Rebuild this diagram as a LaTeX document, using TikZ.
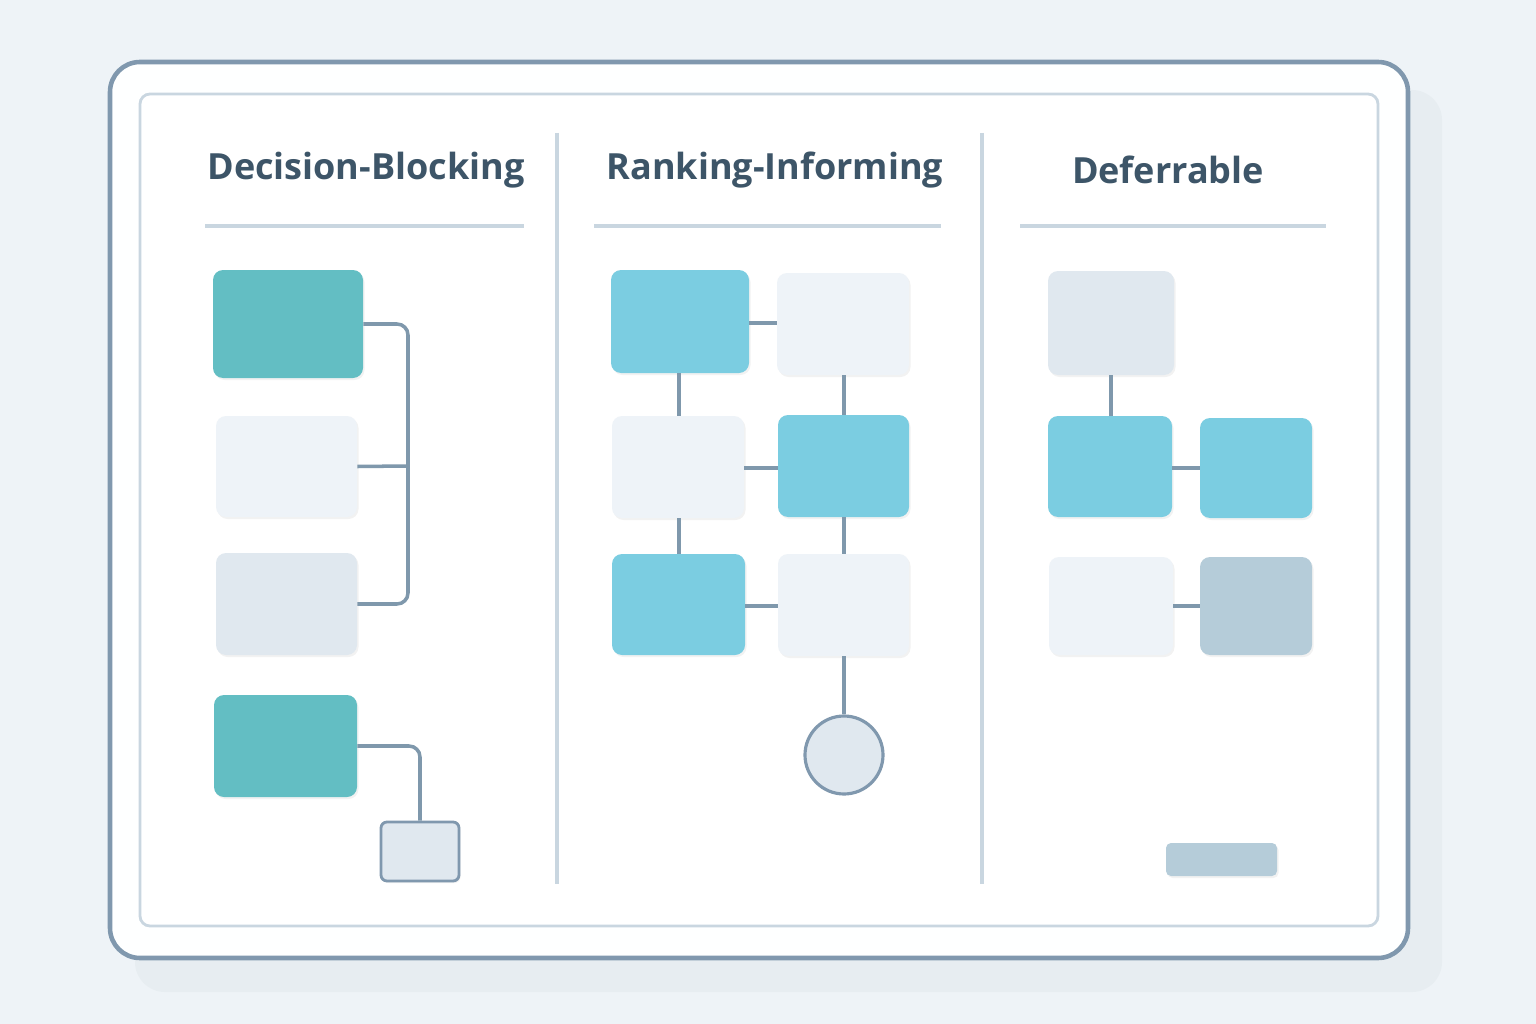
\documentclass[tikz,border=0pt]{standalone}
\usepackage{fontspec}
\setsansfont{Open Sans}
\usetikzlibrary{shadows}
\definecolor{pagebg}{HTML}{EEF3F7}
\definecolor{frameline}{HTML}{8098AE}
\definecolor{innerline}{HTML}{C9D6E0}
\definecolor{titlecol}{HTML}{3D5568}
\definecolor{tealbox}{HTML}{63BEC3}
\definecolor{bluebox}{HTML}{7BCDE1}
\definecolor{palebox}{HTML}{EEF3F8}
\definecolor{greybox}{HTML}{E0E8EF}
\definecolor{slatebox}{HTML}{B5CCD9}
\definecolor{linkcol}{HTML}{7F98AC}
\newcommand\pxu{0.02cm}
\begin{document}
\begin{tikzpicture}[x=0.02cm,y=-0.02cm,
	box/.style={rectangle, rounded corners=0.2cm, inner sep=0pt, draw=none,
		drop shadow={shadow xshift=0.03cm, shadow yshift=-0.04cm, opacity=0.1}},
	link/.style={draw=linkcol, line width=2pt, rounded corners=0.22cm},
	title/.style={font=\sffamily\bfseries\fontsize{20.5}{24}\selectfont, text=titlecol},
	rule/.style={draw=innerline, line width=1.8pt}]
	% Background and frame
	\fill[pagebg] (0,0) rectangle (1536,1024);
	\fill[innerline!45, rounded corners=0.6cm] (135,90) rectangle (1442,992);
	\draw[frameline, line width=2.6pt, fill=white!97!pagebg, rounded corners=0.6cm] (110,62) rectangle (1408,958);
	\draw[innerline, line width=1.6pt, fill=white!98!pagebg, rounded corners=0.2cm] (140,94) rectangle (1378,926);
	% Column dividers
	\draw[rule] (557,133) -- (557,884);
	\draw[rule] (982,133) -- (982,884);
	% Titles
	\node[title] (tblock) at (366,170) {Decision-Blocking};
	\node[title] (trank) at (775,170) {Ranking-Informing};
	\node[title] (tdefer) at (1168,170) {Deferrable};
	\draw[rule] (205,226) -- (524,226);
	\draw[rule] (594,226) -- (941,226);
	\draw[rule] (1020,226) -- (1326,226);
	% Decision-Blocking
	\node[box, fill=tealbox, minimum width=150*\pxu, minimum height=108*\pxu] (a1) at (288,324) {};
	\node[box, fill=palebox, minimum width=141*\pxu, minimum height=101*\pxu] (a2) at (286.5,466.5) {};
	\node[box, fill=greybox, minimum width=141*\pxu, minimum height=102*\pxu] (a3) at (286.5,604) {};
	\node[box, fill=tealbox, minimum width=143*\pxu, minimum height=102*\pxu] (a4) at (285.5,746) {};
	\node[box, fill=greybox, draw=frameline, line width=1.6pt, rounded corners=0.12cm,
		minimum width=78*\pxu, minimum height=59*\pxu] (a5) at (420,851.5) {};
	\coordinate (j1) at (408,466);
	\draw[link] (a1.east) -| (j1) |- (a3.east);
	\draw[link] (a2.east) -- (j1);
	\draw[link] (a4.east) -| (a5.north);
	% Ranking-Informing
	\node[box, fill=bluebox, minimum width=138*\pxu, minimum height=103*\pxu] (b1) at (680,321.5) {};
	\node[box, fill=palebox, minimum width=132*\pxu, minimum height=102*\pxu] (b2) at (843,324) {};
	\node[box, fill=palebox, minimum width=132*\pxu, minimum height=102*\pxu] (b3) at (678,467) {};
	\node[box, fill=bluebox, minimum width=131*\pxu, minimum height=102*\pxu] (b4) at (843.5,466) {};
	\node[box, fill=bluebox, minimum width=133*\pxu, minimum height=101*\pxu] (b5) at (678.5,604.5) {};
	\node[box, fill=palebox, minimum width=131*\pxu, minimum height=102*\pxu] (b6) at (843.5,605) {};
	\node[circle, fill=greybox, draw=frameline, line width=1.8pt, minimum size=78*\pxu, inner sep=0pt] (goal) at (844,755) {};
	\draw[link] (b1.east |- 0,323) -- (b2.west |- 0,323);
	\draw[link] (679,373) -- (679,416);
	\draw[link] (844,375) -- (844,415);
	\draw[link] (b3.east |- 0,468) -- (b4.west |- 0,468);
	\draw[link] (679,518) -- (679,554);
	\draw[link] (844,517) -- (844,554);
	\draw[link] (b5.east |- 0,606) -- (b6.west |- 0,606);
	\draw[link] (b6.south -| goal) -- (goal.north);
	% Deferrable
	\node[box, fill=greybox, minimum width=126*\pxu, minimum height=104*\pxu] (c1) at (1111,323) {};
	\node[box, fill=bluebox, minimum width=124*\pxu, minimum height=101*\pxu] (c2) at (1110,466.5) {};
	\node[box, fill=bluebox, minimum width=112*\pxu, minimum height=100*\pxu] (c3) at (1256,468) {};
	\node[box, fill=palebox, minimum width=124*\pxu, minimum height=98*\pxu] (c4) at (1111,606) {};
	\node[box, fill=slatebox, minimum width=112*\pxu, minimum height=98*\pxu] (c5) at (1256,606) {};
	\node[box, fill=slatebox, rounded corners=0.1cm, minimum width=111*\pxu, minimum height=33*\pxu] (tag) at (1221.5,859.5) {};
	\draw[link] (1111,375) -- (1111,416);
	\draw[link] (c2.east |- 0,468) -- (c3.west |- 0,468);
	\draw[link] (c4.east |- 0,606) -- (c5.west |- 0,606);
\end{tikzpicture}
\end{document}
